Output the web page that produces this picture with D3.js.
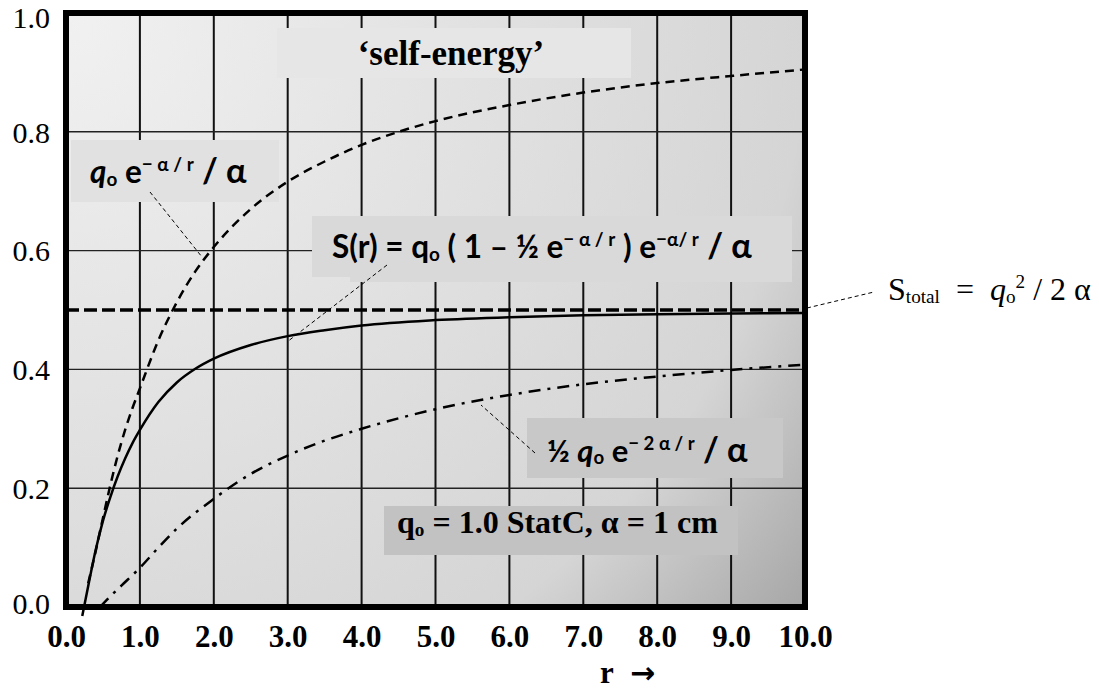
<!DOCTYPE html>
<html>
<head>
<meta charset="utf-8">
<script src="https://cdn.jsdelivr.net/npm/d3@7"></script>
<style>
  html, body { margin: 0; padding: 0; background: #fff; }
  svg { display: block; }
</style>
</head>
<body>
<svg id="chart" width="1099" height="690"></svg>
<script>
// ---------- data ----------
const xTicks = [0, 1, 2, 3, 4, 5, 6, 7, 8, 9, 10];
const xTickLabels = ["0.0", "1.0", "2.0", "3.0", "4.0", "5.0", "6.0", "7.0", "8.0", "9.0", "10.0"];
const yTicks = [0, 0.2, 0.4, 0.6, 0.8, 1.0];
const yTickLabels = ["0.0", "0.2", "0.4", "0.6", "0.8", "1.0"];

// S(r) = q0 (1 - 1/2 e^{-a/r}) e^{-a/r} / a   (solid)
const rS    = [0.22, 0.30, 0.40, 0.50, 0.60, 0.70, 0.80, 0.90, 1.00, 1.25, 1.50, 1.75, 2.00, 2.50, 3.00, 3.50, 4.00, 5.00, 6.00, 7.00, 8.00, 9.00, 10.0];
const sVals = [-0.015, 0.035, 0.095, 0.145, 0.185, 0.220, 0.250, 0.276, 0.298, 0.345, 0.378, 0.401, 0.418, 0.441, 0.456, 0.466, 0.474, 0.483, 0.488, 0.491, 0.493, 0.494, 0.495];

// q0 e^{-a/r} / a   (dashed)
const rD    = [0.30, 0.40, 0.50, 0.60, 0.70, 0.80, 0.90, 1.00, 1.25, 1.50, 1.75, 2.00, 2.50, 3.00, 3.50, 4.00, 4.50, 5.00, 6.00, 7.00, 8.00, 9.00, 10.0];
const dVals = [0.040, 0.093, 0.150, 0.205, 0.255, 0.298, 0.335, 0.368, 0.449, 0.513, 0.565, 0.606, 0.670, 0.716, 0.750, 0.778, 0.800, 0.818, 0.845, 0.866, 0.882, 0.894, 0.905];

// 1/2 q0 e^{-2a/r} / a   (dash-dot)
const rH    = [0.46, 0.60, 0.75, 1.00, 1.25, 1.50, 2.00, 2.50, 3.00, 3.50, 4.00, 5.00, 6.00, 7.00, 8.00, 9.00, 10.0];
const hVals = [0.000, 0.018, 0.036, 0.066, 0.100, 0.132, 0.182, 0.224, 0.255, 0.280, 0.300, 0.333, 0.357, 0.375, 0.388, 0.399, 0.408];

// S_total = q0^2 / 2a  (thick dashed horizontal)
const rTotal = [0, 10];
const totalVals = [0.5, 0.5];

// ---------- drawing ----------
const svg = d3.select("#chart");
const x = d3.scaleLinear().domain([0, 10]).range([66, 805]);
const y = d3.scaleLinear().domain([0, 1]).range([607, 13]);
const serif = "'Liberation Serif', 'Times New Roman', serif";
const sans = "Lato, 'Open Sans', sans-serif";

const defs = svg.append("defs");
const grad = defs.append("radialGradient").attr("id", "bg")
  .attr("gradientUnits", "userSpaceOnUse")
  .attr("cx", x(0)).attr("cy", y(1)).attr("r", 950);
grad.append("stop").attr("offset", 0).attr("stop-color", "#f1f1f1");
grad.append("stop").attr("offset", 0.78).attr("stop-color", "#d5d5d5");
grad.append("stop").attr("offset", 1).attr("stop-color", "#a6a6a6");

// background
svg.append("rect").attr("x", x(0)).attr("y", y(1))
  .attr("width", x(10) - x(0)).attr("height", y(0) - y(1))
  .attr("fill", "url(#bg)");

// grid
const grid = svg.append("g");
grid.selectAll("line.v").data(xTicks.slice(1, -1)).join("line")
  .attr("x1", d => x(d)).attr("x2", d => x(d))
  .attr("y1", y(1)).attr("y2", y(0))
  .attr("stroke", "#111").attr("stroke-width", 2);
grid.selectAll("line.h").data(yTicks.slice(1, -1)).join("line")
  .attr("x1", x(0)).attr("x2", x(10))
  .attr("y1", d => y(d)).attr("y2", d => y(d))
  .attr("stroke", "#222").attr("stroke-width", 1.4);

// label boxes
const boxes = [
  [277, 28, 354, 50, "#e6e6e6"],
  [71, 140, 208, 62, "#e1e1e1"],
  [312, 216, 480, 61, "#d9d9d9"],
  [350, 230, 442, 52, "#d9d9d9"],
  [527, 418, 256, 60, "#c8c8c8"],
  [384, 506, 354, 49, "#c2c2c2"]
];
svg.append("g").selectAll("rect").data(boxes).join("rect")
  .attr("x", d => d[0]).attr("y", d => d[1]).attr("width", d => d[2]).attr("height", d => d[3])
  .attr("fill", d => d[4]);

// leader lines
const leaders = [
  [150, 192, 202, 257],
  [387, 265, 287, 342],
  [535, 453, 481, 405],
  [807, 308, 874, 292]
];
svg.append("g").selectAll("line").data(leaders).join("line")
  .attr("x1", d => d[0]).attr("y1", d => d[1]).attr("x2", d => d[2]).attr("y2", d => d[3])
  .attr("stroke", "#000").attr("stroke-width", 1).attr("stroke-dasharray", "4,3");

// curves
const line = d3.line().x(d => x(d[0])).y(d => y(d[1])).curve(d3.curveMonotoneX);
const curves = svg.append("g");
curves.append("path").datum(d3.zip(rTotal, totalVals)).attr("d", line)
  .attr("fill", "none").attr("stroke", "#000").attr("stroke-width", 3.5).attr("stroke-dasharray", "13,5");
curves.append("path").datum(d3.zip(rH, hVals)).attr("d", line)
  .attr("fill", "none").attr("stroke", "#000").attr("stroke-width", 2.5).attr("stroke-dasharray", "12,7,3,7");
curves.append("path").datum(d3.zip(rD, dVals)).attr("d", line)
  .attr("fill", "none").attr("stroke", "#000").attr("stroke-width", 2.5).attr("stroke-dasharray", "9,6");
curves.append("path").datum(d3.zip(rS, sVals)).attr("d", line)
  .attr("fill", "none").attr("stroke", "#000").attr("stroke-width", 2.5);

// frame
svg.append("rect").attr("x", x(0)).attr("y", y(1))
  .attr("width", x(10) - x(0)).attr("height", y(0) - y(1))
  .attr("fill", "none").attr("stroke", "#000").attr("stroke-width", 6);

// axes
const xAxis = svg.append("g").attr("transform", `translate(0,${y(0)})`)
  .call(d3.axisBottom(x).tickValues(xTicks).tickFormat((d, i) => xTickLabels[i]).tickSize(0).tickPadding(0));
xAxis.select(".domain").remove();
xAxis.selectAll("text").attr("y", 40).attr("dy", 0)
  .attr("font-family", serif).attr("font-weight", "bold").attr("font-size", 31).attr("fill", "#000");

const yAxis = svg.append("g").attr("transform", `translate(50,0)`)
  .call(d3.axisLeft(y).tickValues(yTicks).tickFormat((d, i) => yTickLabels[i]).tickSize(0).tickPadding(0));
yAxis.select(".domain").remove();
yAxis.selectAll("text").attr("x", 0).attr("dy", "0.34em")
  .attr("font-family", serif).attr("font-size", 30).attr("fill", "#000");
yAxis.selectAll(".tick").filter(d => d === 1).select("text").attr("y", 4);
yAxis.selectAll(".tick").filter(d => d === 0).select("text").attr("y", -4);

svg.append("text").attr("x", 600).attr("y", 683)
  .attr("font-family", serif).attr("font-weight", "bold").attr("font-size", 31)
  .text("r");
svg.append("text").attr("x", 630).attr("y", 683)
  .attr("font-family", "'DejaVu Sans', sans-serif").attr("font-weight", "bold").attr("font-size", 30)
  .text("→");

// rich text helper
function rich(xp, yp, segs, opts) {
  const t = svg.append("text").attr("x", xp).attr("y", yp)
    .attr("font-family", opts.family).attr("font-weight", opts.weight || "normal")
    .attr("font-size", opts.size).attr("fill", "#000");
  let shift = 0;
  segs.forEach(s => {
    const k = s.k || "n";
    let target = 0, fs = opts.size;
    if (k === "sup") { target = -opts.size * 0.38; fs = opts.size * 0.6; }
    if (k === "sub") { target = opts.size * 0.08; fs = opts.size * 0.6; }
    if (s.fs) fs = s.fs;
    t.append("tspan").attr("dy", target - shift).attr("font-size", fs)
      .attr("font-style", s.it ? "italic" : null)
      .attr("xml:space", "preserve")
      .text(s.t);
    shift = target;
  });
  return t;
}

rich(451, 65, [{t: "‘self-energy’"}], {family: serif, weight: "bold", size: 35}).attr("text-anchor", "middle");

rich(90, 183, [
  {t: "q", it: true}, {t: "o", k: "sub"}, {t: " e"}, {t: "− α / r", k: "sup"}, {t: " / α", fs: 34}
], {family: sans, weight: "bold", size: 31.5});

rich(332, 258, [
  {t: "S(r) = q"}, {t: "o", k: "sub"}, {t: " ( 1 – ½ e"}, {t: "− α / r", k: "sup"},
  {t: " ) e"}, {t: "−α/ r", k: "sup"}, {t: " / α", fs: 34}
], {family: sans, weight: "bold", size: 31.5});

rich(547, 462, [
  {t: "½ "}, {t: "q", it: true}, {t: "o", k: "sub"}, {t: " e"}, {t: "− 2 α / r", k: "sup"}, {t: " / α", fs: 34}
], {family: sans, weight: "bold", size: 31});

rich(397, 533, [
  {t: "q"}, {t: "o", k: "sub"}, {t: " = 1.0 StatC, α = 1 cm"}
], {family: serif, weight: "bold", size: 32});

rich(888, 300, [
  {t: "S"}, {t: "total", k: "sub"}, {t: "  =  "}, {t: "q", it: true}, {t: "o", k: "sub"},
  {t: "2", k: "sup"}, {t: " / 2 α"}
], {family: serif, size: 32});
</script>
</body>
</html>
